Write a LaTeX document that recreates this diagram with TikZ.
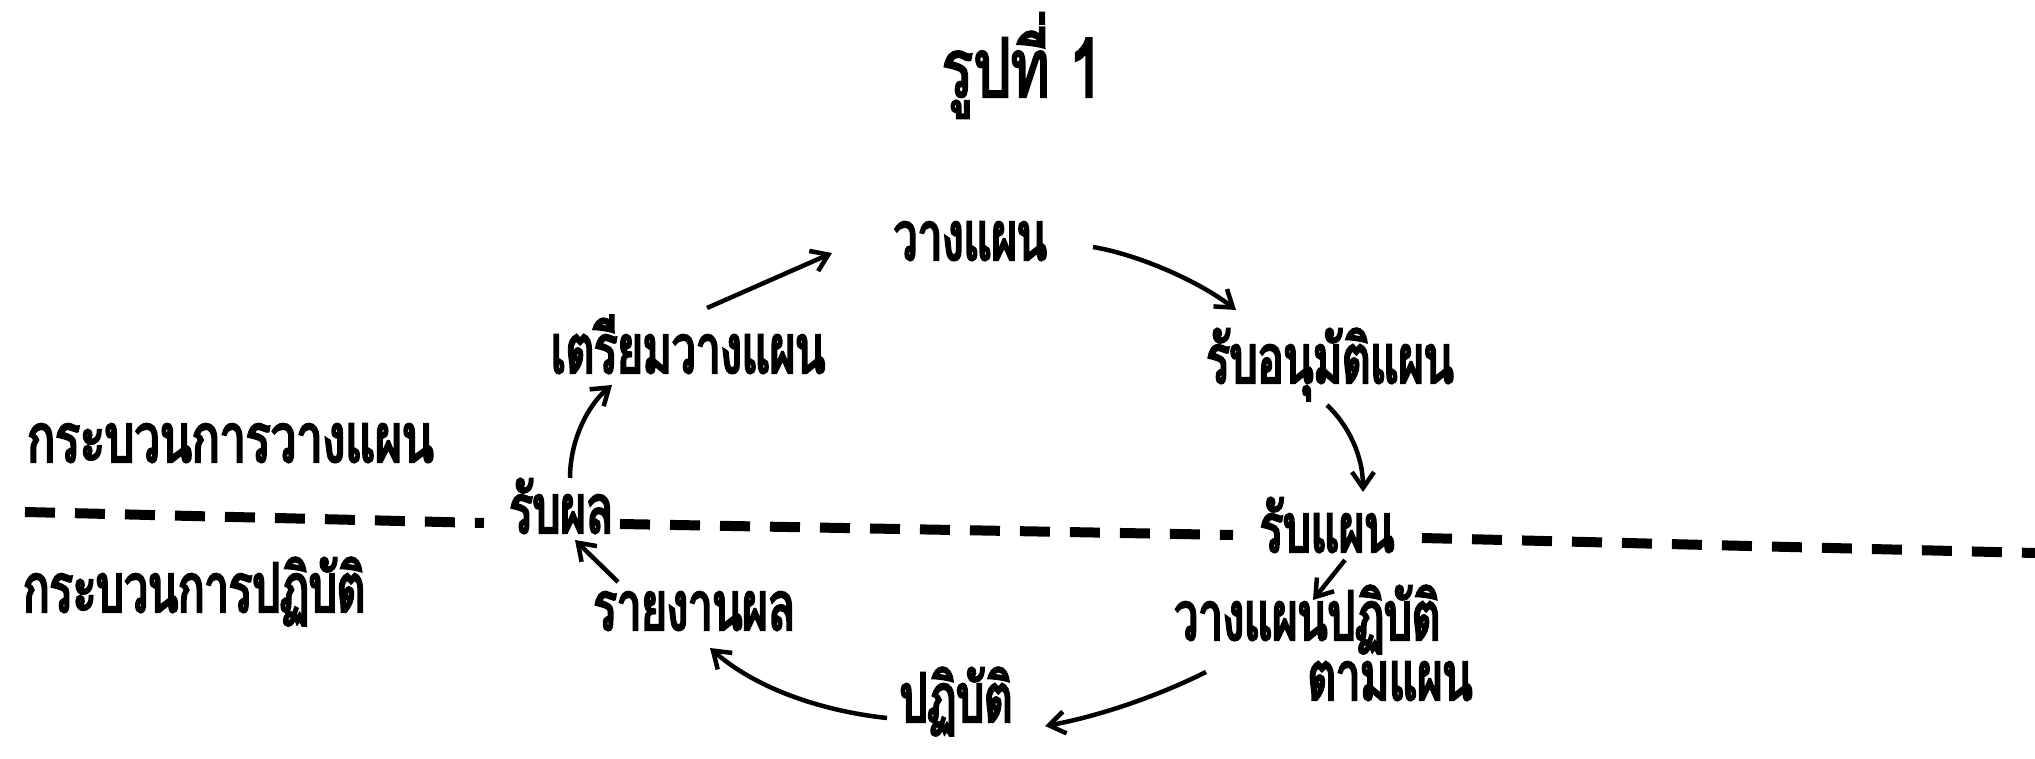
\documentclass[tikz,border=0pt]{standalone}
\usepackage{fontspec}
\newfontfamily\thai[Script=Thai,FakeBold=3.5,FakeStretch=0.64]{Loma}
\newfontfamily\thaititle[Script=Thai,FakeBold=2.5,FakeStretch=0.72]{Loma}
\usetikzlibrary{arrows.meta}
\begin{document}
\begin{tikzpicture}[x=1pt,y=-1pt,
  lbl/.style={anchor=base,inner sep=0pt,font=\thai\fontsize{68}{72}\selectfont},
  side/.style={lbl,anchor=base west},
  arr/.style={line width=4.5pt,-{Straight Barb[length=16pt,width=22pt]}},
  dashline/.style={line width=10pt,dash pattern=on 30pt off 20pt}]
\fill[white] (0,0) rectangle (2035,759);
\useasboundingbox (0,0) rectangle (2035,759);

% title
\node[lbl,font=\thaititle\fontsize{82}{86}\selectfont] (title) at (1022,97) {รูปที่ 1};

% cycle steps
\node[lbl] (plan)    at (970,260)  {วางแผน};
\node[lbl] (prep)    at (688,373)  {เตรียมวางแผน};
\node[lbl] (appr)    at (1330,383) {รับอนุมัติแผน};
\node[lbl] (getres)  at (561,533)  {รับผล};
\node[lbl] (getplan) at (1327,552) {รับแผน};
\node[lbl] (report)  at (694,630)  {รายงานผล};
\node[lbl] (opplan)  at (1307,640) {วางแผนปฏิบัติ};
\node[lbl] (opplanb) at (1390,700) {ตามแผน};
\node[lbl] (act)     at (956,722)  {ปฏิบัติ};

% side labels
\node[side,font=\thai\fontsize{68}{72}\selectfont\addfontfeature{FakeStretch=0.68}] (lplan) at (27,462) {กระบวนการวางแผน};
\node[side] (lact)  at (23,612) {กระบวนการปฏิบัติ};

% boundary between the two processes
\coordinate (dl) at (25,512);
\coordinate (dr) at (2035,553);
\draw[dashline] (dl) -- ([shift={(-77,-10)}]getres.base);
\draw[dashline] ([shift={(59,-9)}]getres.base) -- ([shift={(-94,-17)}]getplan.base);
\draw[dashline] ([shift={(95,-14)}]getplan.base) -- (dr);

% cycle arrows
\draw[arr] ([shift={(19,-65)}]prep.base) -- ([shift={(-138,-7)}]plan.base);
\draw[arr] ([shift={(123,-13)}]plan.base) .. controls (1140,255) and (1200,282) .. ([shift={(-94,-73)}]appr.base);
\draw[arr] ([shift={(-3,22)}]appr.base) .. controls (1348,425) and (1363,455) .. ([shift={(36,-60)}]getplan.base);
\draw[arr] ([shift={(18,8)}]getplan.base) -- ([shift={(6,-40)}]opplan.base);
\draw[arr] ([shift={(-101,32)}]opplan.base) .. controls (1150,700) and (1090,718) .. ([shift={(89,4)}]act.base);
\draw[arr] ([shift={(-69,-4)}]act.base) .. controls (830,712) and (760,692) .. ([shift={(16,18)}]report.base);
\draw[arr] ([shift={(-76,-48)}]report.base) -- ([shift={(14,7)}]getres.base);
\draw[arr] ([shift={(9,-55)}]getres.base) .. controls (570,440) and (588,405) .. ([shift={(-76,12)}]prep.base);
\end{tikzpicture}
\end{document}
